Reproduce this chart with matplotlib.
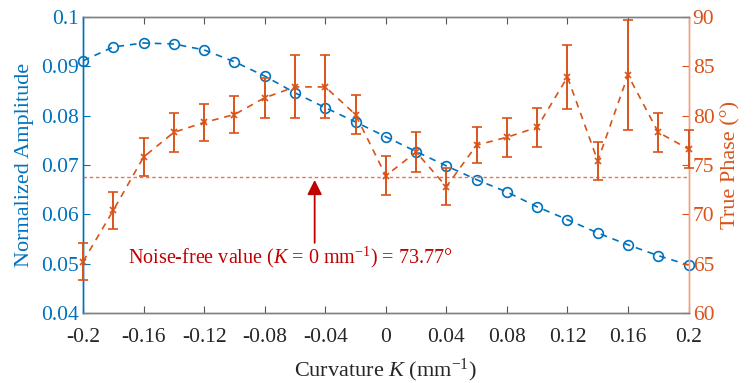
import matplotlib.pyplot as plt

plt.rcParams['font.family'] = ['Liberation Serif', 'DejaVu Serif']
plt.rcParams['mathtext.fontset'] = 'custom'
plt.rcParams['mathtext.it'] = 'Liberation Serif:italic'
plt.rcParams['mathtext.rm'] = 'Liberation Serif'

BLUE = '#0072BD'
ORANGE = '#D95319'
DARKRED = '#C00000'

curvature = [-0.2, -0.18, -0.16, -0.14, -0.12, -0.10, -0.08, -0.06, -0.04, -0.02,
             0.0, 0.02, 0.04, 0.06, 0.08, 0.10, 0.12, 0.14, 0.16, 0.18, 0.2]
amplitude = [0.0911, 0.0939, 0.0947, 0.0945, 0.0933, 0.0909, 0.0880, 0.0846, 0.0816, 0.0787,
             0.0757, 0.0727, 0.0698, 0.0670, 0.0645, 0.0615, 0.0589, 0.0562, 0.0538, 0.0516, 0.0497]
phase = [65.2, 70.4, 75.8, 78.3, 79.3, 80.1, 81.8, 82.9, 82.9, 80.1,
         73.9, 76.3, 72.8, 77.0, 77.8, 78.8, 83.9, 75.4, 84.1, 78.3, 76.6]
phase_err = [1.9, 1.9, 1.9, 2.0, 1.9, 1.9, 2.0, 3.2, 3.2, 1.95,
             1.95, 2.0, 1.9, 1.85, 2.0, 1.95, 3.2, 1.9, 5.6, 1.95, 1.9]
noise_free = 73.77
xticks = [-0.2, -0.16, -0.12, -0.08, -0.04, 0, 0.04, 0.08, 0.12, 0.16, 0.2]
xtick_labels = ['-0.2', '-0.16', '-0.12', '-0.08', '-0.04', '0', '0.04', '0.08', '0.12', '0.16', '0.2']

fig = plt.figure(figsize=(7.55, 3.83), dpi=100)
ax = fig.add_axes([0.110, 0.183, 0.802, 0.773])
ax2 = ax.twinx()

ax.plot(curvature, amplitude, color=BLUE, linestyle=(0, (4, 3.5)), linewidth=1.2,
        marker='o', markersize=7, markerfacecolor='none', markeredgewidth=1.2,
        zorder=3, clip_on=False)

eb = ax2.errorbar(curvature, phase, yerr=phase_err, color=ORANGE, linestyle=(0, (4, 3.5)),
                  linewidth=1.2, marker='x', markersize=5, markeredgewidth=1.2,
                  elinewidth=1.4, capsize=3.3, capthick=1.4, zorder=3)
for artist in eb.lines[0:1] + eb.lines[1] + eb.lines[2]:
    artist.set_clip_on(False)
# dotted reference line for the noise-free phase
ax2.axhline(noise_free, color='#E8784A', linestyle=(0, (2.5, 2)), linewidth=1.0)

ax2.annotate('', xy=(-0.047, noise_free - 0.3), xytext=(-0.047, 67.1),
             arrowprops=dict(arrowstyle='-|>', color=DARKRED, lw=1.3,
                             mutation_scale=22, shrinkA=0, shrinkB=0))
ax2.text(-0.063, 65.6, 'Noise-free value ($K$ = 0 mm$^{\\mathregular{-1}}$) = 73.77°',
         color=DARKRED, fontsize=14.5, ha='center', va='center')

ax.set_xlim(-0.2, 0.2)
ax.set_ylim(0.04, 0.1)
ax2.set_ylim(60, 90)
ax.set_xticks(xticks)
ax.set_xticklabels(xtick_labels)
ax.set_yticks([0.04, 0.05, 0.06, 0.07, 0.08, 0.09, 0.1])
ax.set_yticklabels(['0.04', '0.05', '0.06', '0.07', '0.08', '0.09', '0.1'])
ax2.set_yticks([60, 65, 70, 75, 80, 85, 90])

ax.set_xlabel('Curvature $K$ (mm$^{\\mathregular{-1}}$)', fontsize=16, color='#262626', labelpad=7)
ax.set_ylabel('Normalized Amplitude', fontsize=16, color=BLUE, labelpad=5)
ax2.set_ylabel('True Phase (°)', fontsize=16, color=ORANGE, labelpad=5)

ax.tick_params(axis='x', direction='in', top=True, labelsize=15.5, labelcolor='#262626',
               color='#555555', length=5, pad=11)
ax.tick_params(axis='y', direction='in', labelsize=15.5, colors=BLUE, length=5, pad=3)
ax2.tick_params(axis='y', direction='in', labelsize=15.5, colors=ORANGE, length=5, pad=3)

for a in (ax, ax2):
    a.spines['top'].set_color('#808080')
    a.spines['bottom'].set_color('#808080')
    a.spines['left'].set_color(BLUE)
    a.spines['right'].set_color('#F0A080')
    for s in a.spines.values():
        s.set_linewidth(1.0)

fig.savefig('out.png', dpi=100)
